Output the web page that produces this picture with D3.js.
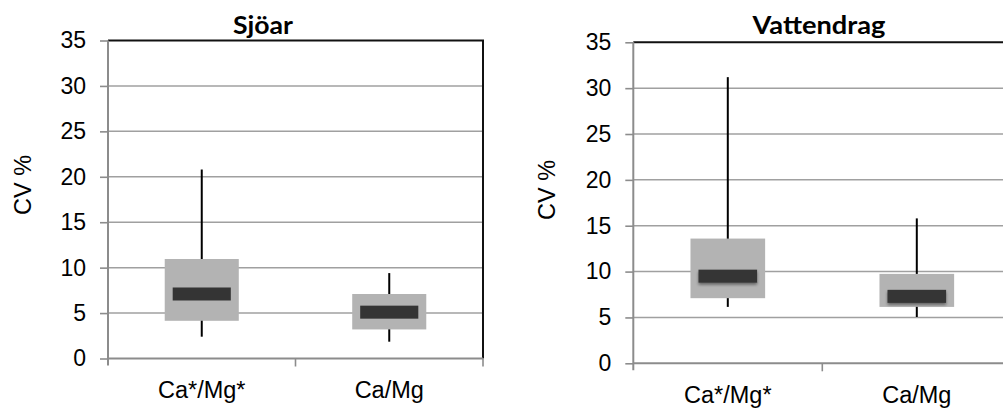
<!DOCTYPE html>
<html>
<head>
<meta charset="utf-8">
<script src="https://cdn.jsdelivr.net/npm/d3@7"></script>
<style>
  html, body { margin: 0; padding: 0; background: #fff; }
  svg { display: block; }
</style>
</head>
<body>
<svg id="chart" width="1003" height="408"></svg>
<script>
// Categories and y-axis ticks shared by both panels
const categories = ["Ca*/Mg*", "Ca/Mg"];
const yTicks = [0, 5, 10, 15, 20, 25, 30, 35];

// Sjöar: whisker low, lower quartile, median, upper quartile, whisker high
const sjoarMin    = [2.4, 1.85];
const sjoarQ1     = [4.15, 3.2];
const sjoarMedian = [7.1, 5.1];
const sjoarQ3     = [10.95, 7.1];
const sjoarMax    = [20.8, 9.4];

// Vattendrag
const vattenMin    = [6.15, 5.05];
const vattenQ1     = [7.1, 6.15];
const vattenMedian = [9.5, 7.3];
const vattenQ3     = [13.6, 9.75];
const vattenMax    = [31.2, 15.8];

const svg = d3.select("#chart");

// soft shadow under the median bar
const defs = svg.append("defs");
const f = defs.append("filter").attr("id", "medShadow")
  .attr("x", "-20%").attr("y", "-60%").attr("width", "140%").attr("height", "220%");
f.append("feGaussianBlur").attr("in", "SourceAlpha").attr("stdDeviation", 1.6).attr("result", "b");
f.append("feOffset").attr("in", "b").attr("dy", 1.5).attr("result", "o");
f.append("feComponentTransfer").attr("in", "o").attr("result", "s")
  .append("feFuncA").attr("type", "linear").attr("slope", 0.45);
const fm = f.append("feMerge");
fm.append("feMergeNode").attr("in", "s");
fm.append("feMergeNode").attr("in", "SourceGraphic");

const textFont = "'Liberation Sans', Arial, sans-serif";

function drawPanel(opt) {
  const { x0, x1, yTop, yBottom, title, titleX, titleY, titleW, labelX, labelY, xLabelY, shadow } = opt;
  const g = svg.append("g");

  const y = d3.scaleLinear().domain([0, 35]).range([yBottom, yTop]);
  const x = d3.scaleBand().domain(categories).range([x0, x1]).paddingInner(0).paddingOuter(0);
  const bw = x.bandwidth();

  // horizontal gridlines
  g.append("g").selectAll("line").data(yTicks.filter(t => t > 0 && t < 35)).join("line")
    .attr("x1", x0).attr("x2", x1)
    .attr("y1", d => y(d)).attr("y2", d => y(d))
    .attr("stroke", "#a0a0a0").attr("stroke-width", 1.5);

  // plot border: top and right in black
  g.append("path")
    .attr("d", `M${x0},${y(35)}H${x1}V${y(0)}`)
    .attr("fill", "none").attr("stroke", "#111").attr("stroke-width", 2);

  // whiskers
  g.append("g").selectAll("line").data(categories).join("line")
    .attr("x1", d => x(d) + bw / 2).attr("x2", d => x(d) + bw / 2)
    .attr("y1", (d, i) => y(opt.min[i])).attr("y2", (d, i) => y(opt.max[i]))
    .attr("stroke", "#000").attr("stroke-width", 2);

  // interquartile boxes
  const boxW = bw * 0.395;
  g.append("g").selectAll("rect").data(categories).join("rect")
    .attr("x", d => x(d) + bw / 2 - boxW / 2)
    .attr("width", boxW)
    .attr("y", (d, i) => y(opt.q3[i]))
    .attr("height", (d, i) => y(opt.q1[i]) - y(opt.q3[i]))
    .attr("fill", "#b3b3b3");

  // median bars
  const medW = bw * 0.31, medH = 13;
  g.append("g").selectAll("rect").data(categories).join("rect")
    .attr("x", d => x(d) + bw / 2 - medW / 2)
    .attr("width", medW)
    .attr("y", (d, i) => y(opt.median[i]) - medH / 2)
    .attr("height", medH)
    .attr("fill", "#343434")
    .attr("filter", shadow ? "url(#medShadow)" : null);

  // y axis
  const yAxis = g.append("g").attr("transform", `translate(${x0},0)`)
    .call(d3.axisLeft(y).tickValues(yTicks).tickSize(8).tickPadding(14).tickSizeOuter(0));
  yAxis.select(".domain").attr("stroke", "#8c8c8c").attr("stroke-width", 2)
    .attr("d", `M0,${y(35)}V${y(0) + 7}`);
  yAxis.selectAll(".tick line").attr("stroke", "#8c8c8c").attr("stroke-width", 1.6);
  yAxis.selectAll(".tick text")
    .attr("font-family", textFont)
    .attr("font-size", 23).attr("fill", "#000");

  // x axis
  const xAxis = g.append("g").attr("transform", `translate(0,${y(0)})`)
    .call(d3.axisBottom(x).tickSize(0).tickSizeOuter(0).tickPadding(0));
  xAxis.select(".domain").attr("stroke", "#8c8c8c").attr("stroke-width", 2)
    .attr("d", `M${x0},0H${x1}`);
  xAxis.selectAll(".tick text").remove();
  // category boundary ticks
  const bounds = categories.map(c => x(c) + bw);
  xAxis.append("g").selectAll("line").data(bounds).join("line")
    .attr("x1", d => d).attr("x2", d => d).attr("y1", 0).attr("y2", 8)
    .attr("stroke", "#8c8c8c").attr("stroke-width", 1.6);
  // category labels
  g.append("g").selectAll("text").data(categories).join("text")
    .attr("x", d => x(d) + bw / 2).attr("y", xLabelY)
    .attr("text-anchor", "middle")
    .attr("font-family", textFont)
    .attr("font-size", 23.5).attr("fill", "#000")
    .text(d => d);

  // y label
  g.append("text")
    .attr("transform", `translate(${labelX},${labelY}) rotate(-90)`)
    .attr("text-anchor", "middle").attr("dominant-baseline", "central")
    .attr("font-family", textFont)
    .attr("font-size", 23.5).attr("fill", "#000")
    .text("CV %");

  // title
  g.append("text")
    .attr("x", titleX).attr("y", titleY)
    .attr("text-anchor", "middle")
    .attr("font-family", "Lato, 'Open Sans', sans-serif")
    .attr("font-weight", 700).attr("font-size", 24).attr("fill", "#000")
    .attr("textLength", titleW).attr("lengthAdjust", "spacingAndGlyphs")
    .text(title);
}

drawPanel({
  x0: 108, x1: 483, yTop: 40.5, yBottom: 358.5,
  title: "Sjöar", titleX: 263, titleY: 33.5, titleW: 60,
  labelX: 23, labelY: 185, xLabelY: 398, shadow: false,
  min: sjoarMin, q1: sjoarQ1, median: sjoarMedian, q3: sjoarQ3, max: sjoarMax
});

drawPanel({
  x0: 633.3, x1: 1011.3, yTop: 42.3, yBottom: 363.3,
  title: "Vattendrag", titleX: 819, titleY: 33.5, titleW: 133,
  labelX: 547, labelY: 190, xLabelY: 403, shadow: true,
  min: vattenMin, q1: vattenQ1, median: vattenMedian, q3: vattenQ3, max: vattenMax
});
</script>
</body>
</html>
